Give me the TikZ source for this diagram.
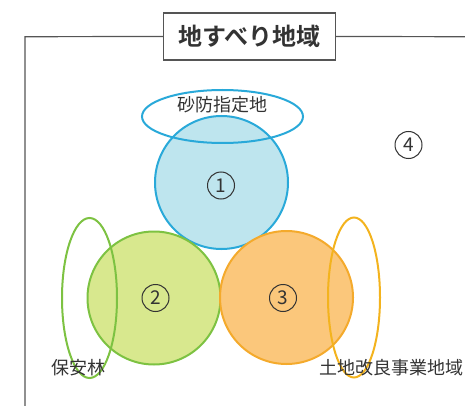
\documentclass[tikz,border=0pt]{standalone}
\usepackage{fontspec}
\usetikzlibrary{shapes.geometric}
\newfontfamily\jp{Noto Sans CJK JP}[BoldFont={Noto Sans CJK JP Bold}]
\definecolor{framegray}{HTML}{555555}
\definecolor{txt}{HTML}{333333}
\definecolor{bluestroke}{HTML}{29A9D9}
\definecolor{bluefill}{HTML}{BEE5EE}
\definecolor{greenstroke}{HTML}{7DC242}
\definecolor{greenfill}{HTML}{D8E88E}
\definecolor{orangestroke}{HTML}{F4AA2C}
\definecolor{orangefill}{HTML}{FBC77B}
\definecolor{yellowstroke}{HTML}{F3B31E}
\tikzset{
  frameline/.style={draw=framegray, line width=1.2pt},
  bigcircle/.style={circle, minimum size=133pt, inner sep=0pt, outer sep=0pt, line width=2pt},
  loop/.style={ellipse, inner sep=0pt, outer sep=0pt, line width=2pt},
  numc/.style={circle, draw=txt, line width=1pt, minimum size=27pt, inner sep=0pt, text=txt, font=\jp\fontsize{19}{19}\selectfont},
  lbl/.style={text=txt, inner sep=0pt, font=\jp\fontsize{18}{20}\selectfont}
}
\begin{document}
\begin{tikzpicture}[x=1pt,y=-1pt]
\useasboundingbox (0,0) rectangle (465,406);
% frame
\node[draw=framegray, line width=1.2pt, fill=white, minimum width=172pt, minimum height=47pt, inner sep=0pt, text=txt, font=\jp\bfseries\fontsize{24}{28}\selectfont] (title) at (249.5,36.5) {地すべり地域};
\coordinate (tl) at (25,36.7);
\coordinate (bl) at (25,406);
\coordinate (tr) at (465,36.7);
\draw[frameline] (title.west) -- (tl) -- (bl);
\draw[frameline] (title.east) -- (tr);
% circles
\node[bigcircle, fill=bluefill, draw=bluestroke] (c1) at (221.5,182.5) {};
\node[loop, draw=bluestroke, minimum width=161pt, minimum height=53pt] (e1) at (222.5,116.5) {};
\node[bigcircle, fill=greenfill, draw=greenstroke] (c2) at (154,298) {};
\node[bigcircle, fill=orangefill, draw=orangestroke] (c3) at (286.5,297.5) {};
\node[loop, draw=greenstroke, minimum width=55pt, minimum height=160pt] (e2) at (89.5,298) {};
\node[loop, draw=yellowstroke, minimum width=52pt, minimum height=160pt] (e3) at (354,297.5) {};
% numbers
\node[numc] (n1) at (221,185.5) {1};
\node[numc] (n2) at (155.5,298) {2};
\node[numc] (n3) at (283,298) {3};
\node[numc] (n4) at (408.5,145) {4};
% labels
\node[lbl] (l1) at (222,105) {砂防指定地};
\node[lbl] (l2) at (78,368) {保安林};
\node[lbl] (l3) at (391,368) {土地改良事業地域};
\end{tikzpicture}
\end{document}
